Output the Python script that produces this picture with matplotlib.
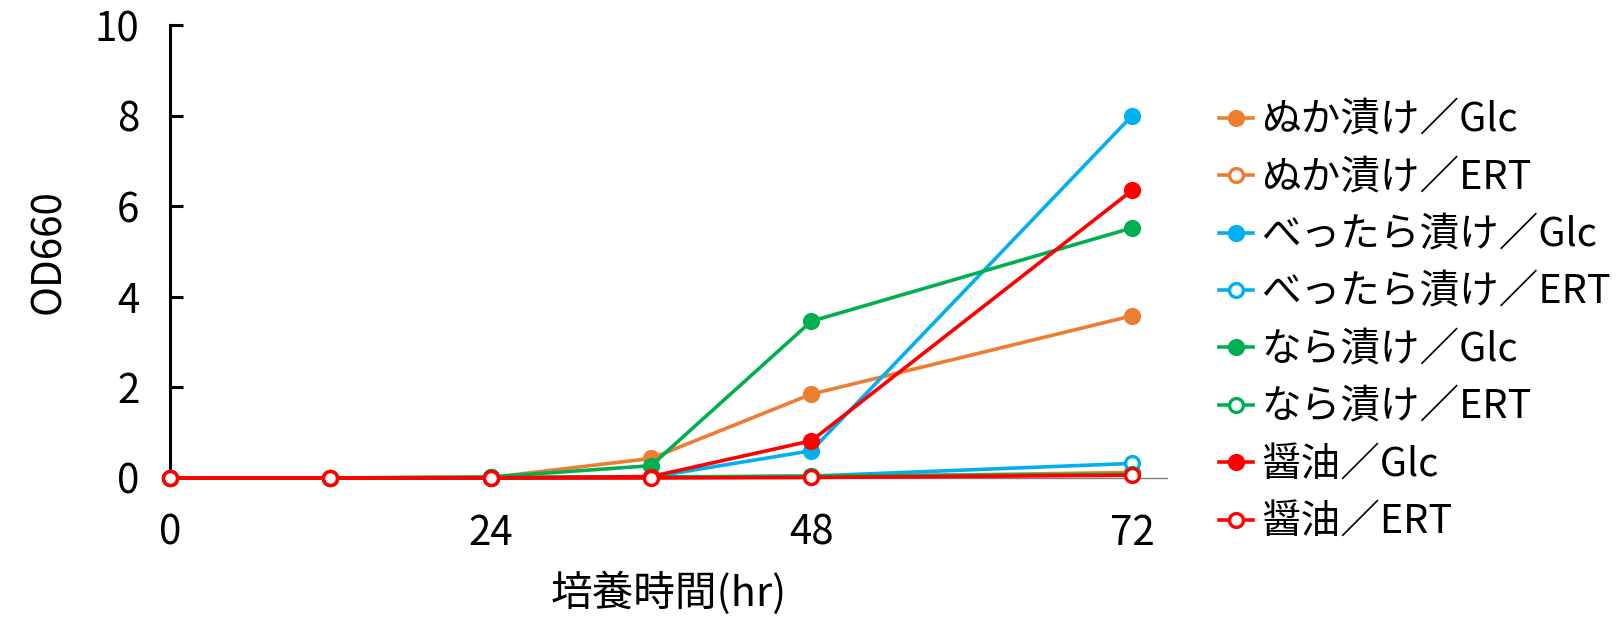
import matplotlib
matplotlib.use('Agg')
import matplotlib.pyplot as plt

plt.rcParams['font.family'] = ['Noto Sans CJK JP', 'DejaVu Sans']

# culture time (hr)
hours = [0, 12, 24, 36, 48, 72]

# OD660 readings per sample / medium
nuka_glc = [0, 0, 0.01, 0.43, 1.85, 3.58]
nuka_ert = [0, 0, 0, 0.01, 0.02, 0.12]
bettara_glc = [0, 0, 0, 0.02, 0.60, 8.0]
bettara_ert = [0, 0, 0, 0.01, 0.04, 0.32]
nara_glc = [0, 0, 0.02, 0.27, 3.46, 5.52]
nara_ert = [0, 0, 0.01, 0.02, 0.04, 0.08]
shoyu_glc = [0, 0, 0, 0.03, 0.82, 6.35]
shoyu_ert = [0, 0, 0, 0, 0.01, 0.06]

labels = ['ぬか漬け／Glc', 'ぬか漬け／ERT', 'べったら漬け／Glc', 'べったら漬け／ERT',
          'なら漬け／Glc', 'なら漬け／ERT', '醤油／Glc', '醤油／ERT']
series = [nuka_glc, nuka_ert, bettara_glc, bettara_ert,
          nara_glc, nara_ert, shoyu_glc, shoyu_ert]
colors = ['#ED7D31', '#ED7D31', '#00B0F0', '#00B0F0',
          '#00B050', '#00B050', '#FF0000', '#FF0000']
filled = [True, False, True, False, True, False, True, False]

fig = plt.figure(figsize=(16.23, 6.33), dpi=100)
ax = fig.add_axes([0.1047, 0.245, 0.6143, 0.7155])

for vals, lab, c, f in zip(series, labels, colors, filled):
    ax.plot(hours, vals, color=c, lw=2.6, marker='o', markersize=10,
            markerfacecolor=c if f else 'white', markeredgecolor=c,
            markeredgewidth=2.4, label=lab, clip_on=False, zorder=3)

ax.set_xlim(0, 74.6)
ax.set_ylim(0, 10)
ax.set_xticks([0, 24, 48, 72])
ax.set_yticks([0, 2, 4, 6, 8, 10])

ax.spines['top'].set_visible(False)
ax.spines['right'].set_visible(False)
ax.spines['left'].set_linewidth(2.2)
ax.spines['left'].set_color('black')
ax.spines['bottom'].set_linewidth(1.0)
ax.spines['bottom'].set_color('#808080')

ax.tick_params(axis='y', direction='in', length=9, width=2.2, labelsize=29, pad=22)
ax.tick_params(axis='x', direction='in', length=4, width=0.8, color='#808080',
               labelsize=29, pad=25)

ax.set_xlabel('培養時間(hr)', fontsize=30, labelpad=13)
ax.set_ylabel('OD660', fontsize=29, labelpad=18)

fig.legend(loc='center left', bbox_to_anchor=(0.751, 0.492), frameon=False,
           fontsize=28.5, handlelength=0.87, handletextpad=0.2, labelspacing=0.44,
           borderpad=0, borderaxespad=0)

fig.savefig('out.png', dpi=100)
